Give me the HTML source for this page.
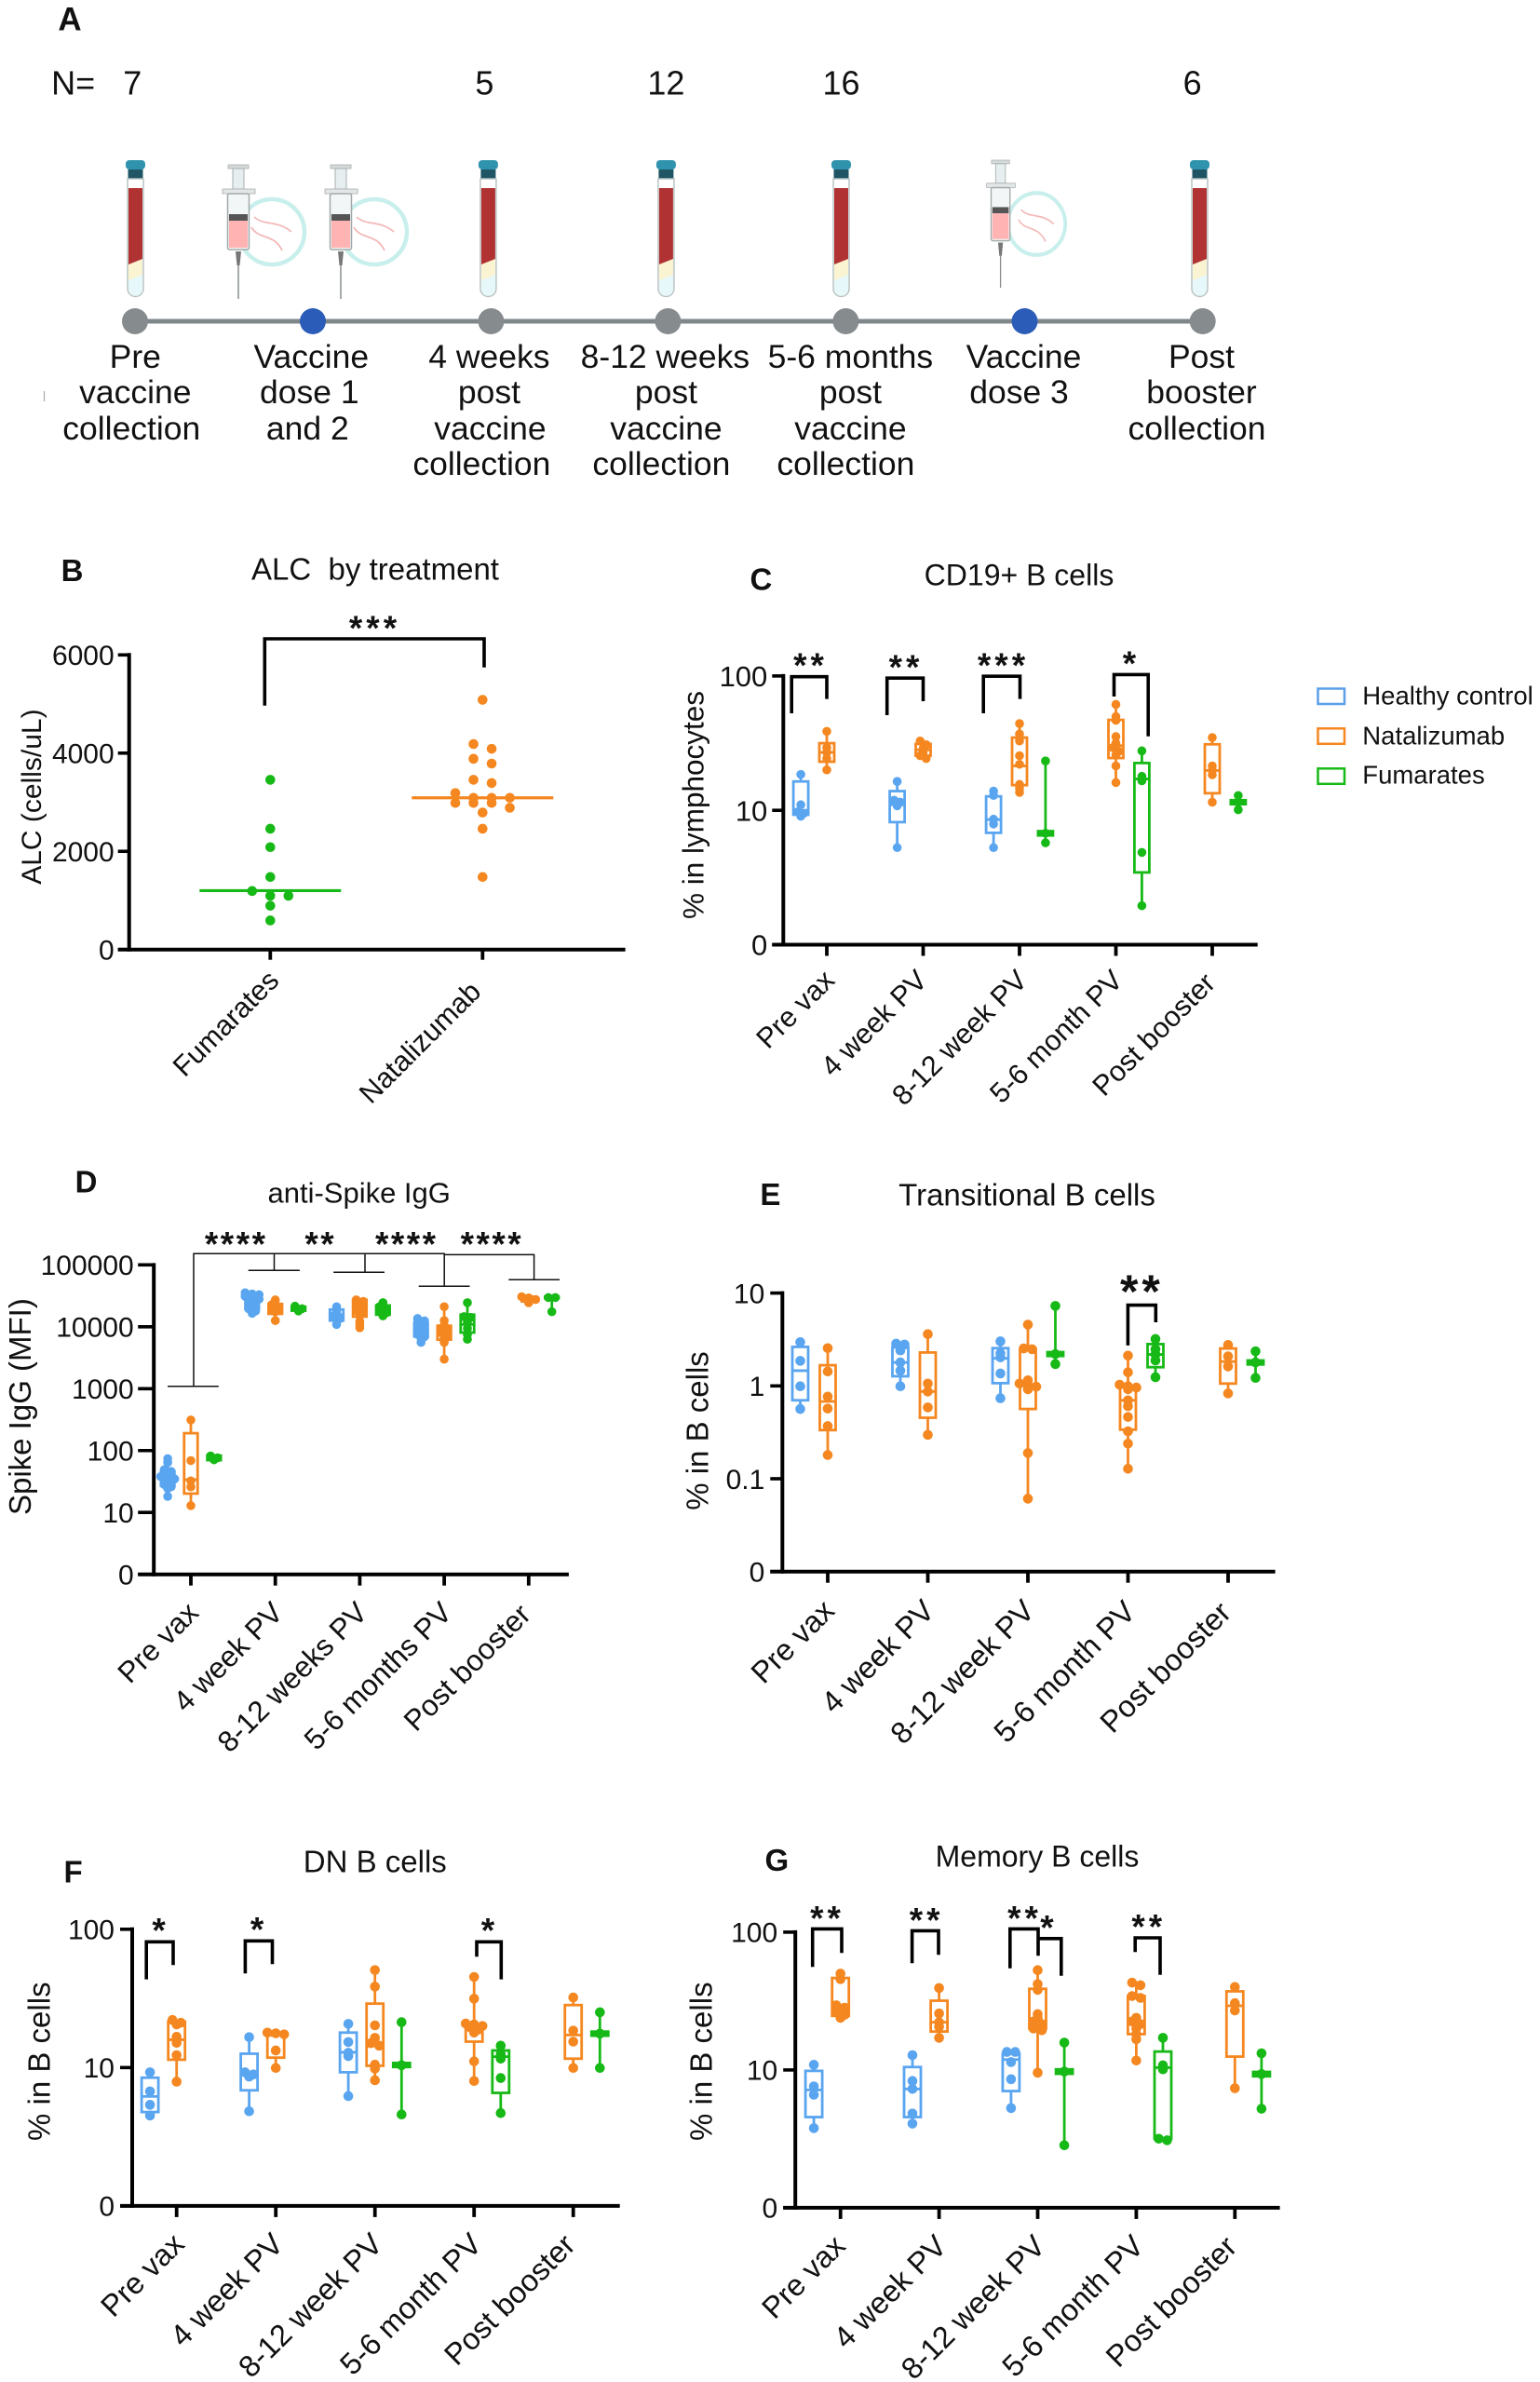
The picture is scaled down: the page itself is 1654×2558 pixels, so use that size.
<!DOCTYPE html>
<html lang="en">
<head>
<meta charset="utf-8">
<title>B cell and antibody responses to vaccination</title>
<style>
html,body{margin:0;padding:0;background:#fff;}
svg{display:block;}
text{font-family:"Liberation Sans",sans-serif;fill:#111;}
.panel{font-weight:bold;font-size:33px;text-anchor:middle;}
.title{font-size:32px;text-anchor:middle;}
.tl{font-size:35.5px;text-anchor:middle;}
.n{font-size:36px;text-anchor:middle;}
.star{text-anchor:middle;font-size:37px;font-weight:bold;letter-spacing:4px;transform:translateY(-4px);}
.br{fill:none;stroke:#000;stroke-width:3.6;}
.thin{fill:none;stroke:#111;stroke-width:1.5;}
.leg{font-size:27.5px;}
</style>
</head>
<body>
<svg id="figure" xmlns="http://www.w3.org/2000/svg" width="1654" height="2558" viewBox="0 0 1654 2558">
<rect width="1654" height="2558" fill="#fff"/>
<defs>
<g id="tube-icon">
<rect x="-10.5" y="172" width="21" height="10" rx="4" fill="#2f93ad"/>
<rect x="-8" y="182" width="16" height="10" fill="#1f5564"/>
<path d="M-8.5 192V310a8.5 8.5 0 0 0 17 0V192Z" fill="#fff" stroke="#b9c3c3" stroke-width="1.5"/>
<path d="M-7.5 296V310a7.5 7.5 0 0 0 15 0V290Z" fill="#e6f8f9"/>
<path d="M-7.5 284V301L7.5 295V278Z" fill="#fbf4d2"/>
<path d="M-7.5 202H7.5V278L-7.5 284Z" fill="#b03232"/>
</g>
<g id="spike-icon">
<circle cx="36" cy="249" r="35" fill="#fff" stroke="#c8efec" stroke-width="4.5"/>
<path d="M17 233C28 243 42 236 57 249" fill="none" stroke="#f3b9b9" stroke-width="1.8"/>
<path d="M14 244C22 258 38 250 47 269" fill="none" stroke="#f3b9b9" stroke-width="1.8"/>
</g>
<g id="syringe-icon">
<rect x="-11" y="177" width="22" height="4" fill="#d5d9d9" stroke="#a9afaf" stroke-width=".8"/>
<rect x="-6" y="181" width="12" height="22" fill="#e6eef0" stroke="#a9afaf" stroke-width="1"/>
<rect x="-17" y="203" width="35" height="5" fill="#e3e6e6" stroke="#a9afaf" stroke-width=".8"/>
<rect x="-11.5" y="208" width="23" height="60" rx="2" fill="#f2f6f6" stroke="#a3a9a9" stroke-width="1.5"/>
<rect x="-10" y="230" width="20" height="7" fill="#555"/>
<rect x="-10" y="237" width="20" height="29" fill="#ffb3b3"/>
<path d="M-3 270H3L1.5 285H-1.5Z" fill="#777"/>
<line x1="0" y1="285" x2="0" y2="321" stroke="#8b8f8f" stroke-width="1.5"/>
</g>
</defs>

<g>
<text class="panel" x="75" y="32.7" style="font-size:35px">A</text>
<text class="n" x="78.6" y="101.5">N=</text>
<text class="n" x="142.3" y="101.5">7</text>
<text class="n" x="520.4" y="101.5">5</text>
<text class="n" x="715.4" y="101.5">12</text>
<text class="n" x="903.5" y="101.5">16</text>
<text class="n" x="1280.6" y="101.5">6</text>

<use href="#tube-icon" transform="translate(145.5,0)"/>
<use href="#tube-icon" transform="translate(524.4,0)"/>
<use href="#tube-icon" transform="translate(715.4,0)"/>
<use href="#tube-icon" transform="translate(903.5,0)"/>
<use href="#tube-icon" transform="translate(1288.5,0)"/>
<use href="#spike-icon" transform="translate(256,0)"/>
<use href="#syringe-icon" transform="translate(256,0)"/>
<use href="#spike-icon" transform="translate(366,0)"/>
<use href="#syringe-icon" transform="translate(366,0)"/>
<use href="#spike-icon" transform="translate(1081.6,3.7) scale(.88,.951)"/>
<use href="#syringe-icon" transform="translate(1074.6,3.7) scale(.88,.951)"/>

<line x1="145" y1="345" x2="1291.7" y2="345" stroke="#80878b" stroke-width="5"/>
<circle cx="145" cy="345" r="14" fill="#868b8e"/>
<circle cx="336" cy="345" r="14" fill="#2a5cb8"/>
<circle cx="527.4" cy="345" r="14" fill="#868b8e"/>
<circle cx="717.4" cy="345" r="14" fill="#868b8e"/>
<circle cx="908.4" cy="345" r="14" fill="#868b8e"/>
<circle cx="1100.5" cy="345" r="14" fill="#2a5cb8"/>
<circle cx="1291.7" cy="345" r="14" fill="#868b8e"/>
<line x1="47.5" y1="420" x2="47.5" y2="431" stroke="#aaa" stroke-width="1.2"/>

<g>
<text class="tl" x="145.3" y="395">Pre</text><text class="tl" x="145.3" y="433">vaccine</text><text class="tl" x="141.3" y="472">collection</text>
</g>
<g>
<text class="tl" x="334.3" y="395">Vaccine</text><text class="tl" x="332.3" y="433">dose 1</text><text class="tl" x="330.3" y="472">and 2</text>
</g>
<g>
<text class="tl" x="525.4" y="395">4 weeks</text><text class="tl" x="525.4" y="433">post</text><text class="tl" x="526.4" y="472">vaccine</text><text class="tl" x="517.4" y="510">collection</text>
</g>
<g>
<text class="tl" x="714.4" y="395">8-12 weeks</text><text class="tl" x="715.4" y="433">post</text><text class="tl" x="715.4" y="472">vaccine</text><text class="tl" x="710.4" y="510">collection</text>
</g>
<g>
<text class="tl" x="913.4" y="395">5-6 months</text><text class="tl" x="913.4" y="433">post</text><text class="tl" x="913.4" y="472">vaccine</text><text class="tl" x="908.4" y="510">collection</text>
</g>
<g>
<text class="tl" x="1099.5" y="395">Vaccine</text><text class="tl" x="1094.5" y="433">dose 3</text>
</g>
<g>
<text class="tl" x="1290.5" y="395">Post</text><text class="tl" x="1290.5" y="433">booster</text><text class="tl" x="1285.5" y="472">collection</text>
</g>
</g>

<!-- Panel titles, letters, axis titles -->
<text class="panel" x="77.6" y="624">B</text>
<text class="title" x="403" y="622.7" style="font-size:33px">ALC&#160; by treatment</text>
<text font-size="30" text-anchor="middle" transform="translate(43.8,855.6) rotate(-90)">ALC (cells/uL)</text>

<text class="panel" x="817.4" y="633.5">C</text>
<text class="title" x="1094.5" y="628.7">CD19+ B cells</text>
<text font-size="31.5" text-anchor="middle" transform="translate(755.7,864.5) rotate(-90)">% in lymphocytes</text>

<text class="panel" x="92.5" y="1280.4">D</text>
<text class="title" x="385.7" y="1291.7" style="font-size:31px">anti-Spike IgG</text>
<text font-size="33" text-anchor="middle" transform="translate(32.8,1510.6) rotate(-90)">Spike IgG (MFI)</text>

<text class="panel" x="827.4" y="1294">E</text>
<text class="title" x="1103" y="1294.7" style="font-size:33px">Transitional B cells</text>
<text font-size="33" text-anchor="middle" transform="translate(760.7,1536.5) rotate(-90)">% in B cells</text>

<text class="panel" x="78.6" y="2021.7">F</text>
<text class="title" x="402.8" y="2010.7" style="font-size:33px">DN B cells</text>
<text font-size="33" text-anchor="middle" transform="translate(53.7,2213.7) rotate(-90)">% in B cells</text>

<text class="panel" x="834.3" y="2009">G</text>
<text class="title" x="1114" y="2004.7">Memory B cells</text>
<text font-size="33" text-anchor="middle" transform="translate(764.7,2213.7) rotate(-90)">% in B cells</text>

<!-- Legend -->
<g>
<g>
<rect x="1415.5" y="739.5" width="28.5" height="16.5" fill="none" stroke="#5b9fe8" stroke-width="2.5"/>
<text class="leg" x="1463.3" y="756.7">Healthy control</text>
</g>
<g>
<rect x="1415.5" y="782.3" width="28.5" height="16.5" fill="none" stroke="#f58720" stroke-width="2.5"/>
<text class="leg" x="1463.3" y="799.3">Natalizumab</text>
</g>
<g>
<rect x="1415.5" y="825.3" width="28.5" height="16.5" fill="none" stroke="#17b917" stroke-width="2.5"/>
<text class="leg" x="1463.3" y="841.7">Fumarates</text>
</g>
</g>

<!-- Significance brackets -->
<g>
<path class="br" d="M284.3 757.7V686H520V716.7"/>
<text class="star" x="402.5" y="691">***</text>
</g>
<g>
<path class="br" d="M850.2 766V726.7H888V750.6"/>
<text class="star" x="870.5" y="731.2">**</text>
<path class="br" d="M952.7 768V728.2H991.5V753"/>
<text class="star" x="973" y="733.2">**</text>
<path class="br" d="M1056.2 766V726.2H1095.5V750.6"/>
<text class="star" x="1077.5" y="731.2">***</text>
<path class="br" d="M1196.5 748V724.4H1233.2V790.7"/>
<text class="star" x="1215" y="729">*</text>
</g>
<g>
<path class="thin" d="M208 1488.7V1346.2H477.2V1381.2M180 1488.7H234.8M266.7 1364.3H321.9M294.5 1346.2V1364.3M358.2 1366.3H412.9M392 1346.2V1366.3M449.7 1381.2H504.5"/>
<path class="thin" d="M477.2 1347.4H573.6V1374.3M546.3 1374.3H601"/>
<text class="star" x="253.7" y="1352.4" style="letter-spacing:2.5px">****</text>
<text class="star" x="344.3" y="1352.4" style="letter-spacing:2.5px">**</text>
<text class="star" x="436.8" y="1352.4" style="letter-spacing:2.5px">****</text>
<text class="star" x="528.4" y="1352.4" style="letter-spacing:2.5px">****</text>
</g>
<g>
<path class="br" d="M1211.4 1444.9V1401.6H1241.3V1420"/>
<text class="star" x="1226.4" y="1408.1" style="font-size:50px">**</text>
</g>
<g>
<path class="br" d="M157.2 2125.6V2085.3H186V2110.2"/>
<text class="star" x="172.6" y="2089.3">*</text>
<path class="br" d="M263.4 2119.2V2084.3H292.5V2109.2"/>
<text class="star" x="278.1" y="2088.3">*</text>
<path class="br" d="M512 2101.2V2085.3H538.3V2125.6"/>
<text class="star" x="525.9" y="2089.3">*</text>
</g>
<g>
<path class="br" d="M872.7 2112.2V2071.4H904V2097.3"/>
<text class="star" x="888.5" y="2076.4">**</text>
<path class="br" d="M979.6 2108.2V2073.4H1008V2099.3"/>
<text class="star" x="995.1" y="2078.4">**</text>
<path class="br" d="M1084.8 2113.7V2071.4H1115V2100.2"/>
<text class="star" x="1100.5" y="2076.4">**</text>
<path class="br" d="M1115 2081.8H1139.8V2121.7"/>
<text class="star" x="1126.4" y="2086.3">*</text>
<path class="br" d="M1219.2 2096.3V2081H1246V2120.7"/>
<text class="star" x="1233.8" y="2085.3">**</text>
</g>
<g id="plots"></g>
</svg>

<script>
/* ---------- Panel B data ---------- */
const bCategories = ['Fumarates', 'Natalizumab'];
const bTickValues = [0, 2000, 4000, 6000];
const bTickLabels = ['0', '2000', '4000', '6000'];
const bFumarates = [3457, 2460, 2085, 1477, 1192, 1095, 1095, 892, 592];
const bNatalizumab = [5085, 4185, 4087, 3885, 3787, 3457, 3390, 3187, 3090, 3090, 3090, 2985, 2985, 2985, 2887, 2790, 2460, 1477];
const bMedians = [1200, 3090];

/* ---------- Shared categories ---------- */
const weekCategories = ['Pre vax', '4 week PV', '8-12 week PV', '5-6 month PV', 'Post booster'];
const spikeCategories = ['Pre vax', '4 week PV', '8-12 weeks PV', '5-6 months PV', 'Post booster'];

/* ---------- Panel C: CD19+ B cells ---------- */
const cTickValues = [1, 10, 100];
const cTickLabels = ['0', '10', '100'];
const cHealthyPoints = [[18.5, 11, 9.75, 9.5, 9.04], [16.4, 11.9, 11.5, 10.8, 5.28], [13.9, 12.9, 8.59, 7.91, 5.28], null, null];
const cHealthyBoxes = [[9.27, 10, 16.4], [8.17, 11, 13.9], [6.8, 8.53, 12.7], null, null];
const cNatalPoints = [[38.7, 29.3, 27, 24.3, 20], [32.8, 30.8, 29, 27.2, 25.5, 24.3], [44.2, 37, 32.8, 25.5, 22, 15.6, 14.6, 13.6], [61.4, 49.9, 46.8, 35.4, 31.6, 29.3, 27.5, 25.8, 21.4, 16.1], [34.8, 21.4, 19.8, 18.4, 11.5]];
const cNatalBoxes = [[23, 27, 31.6], [25.5, 28.2, 31.2], [15.4, 21.4, 34.8], [24.5, 30.3, 47.1], [13.4, 19.8, 31]];
const cFumaratePoints = [null, null, [23.3, 6.76, 5.73], [27.7, 17.9, 16.6, 4.86, 1.95], [12.9, 11.5, 10.1]];
const cFumarateBoxes = [null, null, [6.5, 6.76, 7], [3.45, 17.1, 22.5], [11.1, 11.5, 11.9]];

/* ---------- Panel D: anti-Spike IgG ---------- */
const dTickValues = [1, 10, 100, 1000, 10000, 100000];
const dTickLabels = ['0', '10', '100', '1000', '10000', '100000'];
const dHealthyPoints = [[74, 64, 49, 46, 42.3, 38, 36, 34.8, 33, 31.4, 28.3, 26, 24.4, 18.2], [35500, 34000, 33000, 31000, 30000, 28000, 26000, 24500, 23000, 21000, 19500, 18000, 16500], [21100, 19000, 16900, 15000, 13600, 10900], [13600, 12500, 11700, 10800, 10100, 9400, 8700, 8100, 7500, 6900, 6470, 5590], null];
const dHealthyBoxes = [[27.1, 34.8, 45.5], [19600, 24500, 33000], [12600, 15700, 19000], [6970, 8970, 11400], null];
const dNatalPoints = [[312, 68.9, 32.4, 25.9, 12.9], [27200, 22800, 21000, 19600, 18400, 17450, 12600], [27200, 25700, 24000, 22800, 21000, 19600, 18200, 16900, 15000, 12200, 10900, 9660], [21100, 12600, 10500, 9370, 8700, 8070, 7500, 6970, 5590, 3000], [30600, 29300, 27600, 24500]];
const dNatalBoxes = [[20.2, 33.9, 191], [16200, 19600, 23400], [14600, 20200, 27200], [6190, 8070, 10400], [25600, 28400, 30600]];
const dFumaratePoints = [[82, 76.4, 71], [21500, 19600, 18000], [24500, 21100, 19600, 18200, 16900, 15000], [24500, 14600, 14200, 11700, 9370, 7500, 6280], [29700, 29700, 17500]];
const dFumarateBoxes = [[70, 76.4, 83], [18200, 19600, 21100], [15700, 19000, 22100], [8070, 10900, 15700], [29000, 29700, 30600]];

/* ---------- Panel E: Transitional B cells ---------- */
const eTickValues = [0.01, 0.1, 1, 10];
const eTickLabels = ['0', '0.1', '1', '10'];
const eHealthyPoints = [[2.96, 1.86, 0.99, 0.564], [2.85, 2.79, 2.41, 1.79, 1.46, 0.99], [3.02, 2.25, 2.03, 1.36, 0.736], null, null];
const eHealthyBoxes = [[0.7, 1.46, 2.63], [1.27, 1.79, 2.6], [1.07, 1.98, 2.55], null, null];
const eNatalPoints = [[2.55, 1.43, 0.766, 0.57, 0.369, 0.18], [3.61, 1.06, 0.87, 0.587, 0.297], [4.57, 2.53, 2.48, 1.15, 1.06, 1.02, 0.98, 0.92, 0.189, 0.061], [2.12, 1.4, 1.03, 0.99, 0.96, 0.92, 0.7, 0.604, 0.463, 0.324, 0.239, 0.128], [2.76, 2.08, 1.62, 0.83]];
const eNatalBoxes = [[0.334, 0.68, 1.67], [0.454, 0.87, 2.29], [0.564, 1.04, 2.48], [0.338, 0.7, 1], [1.06, 1.83, 2.53]];
const eFumaratePoints = [null, null, [7.27, 2.2, 1.72], [3.2, 2.48, 2.18, 1.88, 1.24], [2.36, 1.79, 1.22]];
const eFumarateBoxes = [null, null, [2.1, 2.2, 2.31], [1.59, 2.18, 2.82], [1.7, 1.79, 1.88]];

/* ---------- Panel F: DN B cells ---------- */
const fTickValues = [1, 10, 100];
const fTickLabels = ['0', '10', '100'];
const fHealthyPoints = [[9.25, 6.73, 5.38, 4.5], [16.6, 9.25, 8.92, 8.6, 4.83], [20.7, 15.3, 12.8, 12.1, 6.22], null, null];
const fHealthyBoxes = [[4.77, 6.18, 8.45], [6.85, 8.97, 12.6], [9.25, 12.9, 17.9], null, null];
const fNatalPoints = [[22.1, 21.1, 20.5, 16.7, 15.1, 12.3, 7.91], [17.9, 17.7, 17.4, 13.3, 9.94], [50.7, 38.5, 20.2, 16.4, 15, 14.4, 10.5, 9.82, 8.1], [45.2, 31.5, 20.8, 20.5, 20, 19.6, 18.8, 17.9, 11.1, 8], [32.1, 18.5, 15.4, 9.94]];
const fNatalBoxes = [[11.4, 15.9, 21.5], [11.8, 17.1, 17.9], [10.3, 14.4, 29], [15.4, 19, 20.5], [11.6, 17.2, 28.3]];
const fFumaratePoints = [null, null, [21.3, 10.4, 4.58], [14.4, 12.5, 11.6, 8.4, 4.69], [25.1, 17.6, 9.94]];
const fFumarateBoxes = [null, null, [10.1, 10.4, 10.8], [6.56, 12, 13.3], [17, 17.6, 18.2]];

/* ---------- Panel G: Memory B cells ---------- */
const gTickValues = [1, 10, 100];
const gTickLabels = ['0', '10', '100'];
const gHealthyPoints = [[10.9, 7.6, 6.61, 3.78], [12.8, 8.32, 7.28, 4.83, 4.08], [13.5, 13.5, 11.4, 8.57, 5.29], null, null];
const gHealthyBoxes = [[4.55, 7.16, 9.85], [4.55, 7.28, 10.5], [7.03, 11.9, 13.1], null, null];
const gNatalPoints = [[50, 45.6, 29.5, 28.3, 26.2, 25.1, 23.9], [39.3, 25.7, 22.2, 20.6, 17.1], [53, 42, 38.1, 25.4, 23.9, 22.5, 21.5, 20, 19.4, 9.55], [43, 41.2, 34.4, 33.3, 23.9, 22.5, 21.5, 20, 18.2, 16.7, 11.7], [40, 30.5, 27, 7.37]];
const gNatalBoxes = [[24.7, 28.7, 46.5], [19, 22.2, 31.8], [20, 22.5, 38.8], [18.2, 22.5, 34.4], [12.5, 29.2, 37.2]];
const gFumaratePoints = [null, null, [15.8, 9.73, 2.84], [17.1, 10.8, 10.1, 3.17, 3.09], [13.2, 9.33, 5.23]];
const gFumarateBoxes = [null, null, [9.38, 9.73, 10.1], [3.17, 10.4, 13.6], [9, 9.33, 9.68]];

/* ---------- Colours ---------- */
const BLUE = '#5aa5f0', ORANGE = '#f58720', GREEN = '#17b917';
const SVGNS = 'http://www.w3.org/2000/svg';
const plots = document.getElementById('plots');

function svgEl(tag, attrs, parent) {
  const el = document.createElementNS(SVGNS, tag);
  for (const k in attrs) el.setAttribute(k, attrs[k]);
  parent.appendChild(el);
  return el;
}

/* Prism-style binned scatter: points close in y share a row, centred on the series position */
function swarmOffsets(values, yFn, spacing, binPx) {
  const items = values.map(v => ({ v: v, y: yFn(v) })).sort((a, b) => a.y - b.y);
  const bins = [];
  items.forEach(it => {
    const last = bins[bins.length - 1];
    if (last && it.y - last[0].y <= binPx) last.push(it);
    else bins.push([it]);
  });
  bins.forEach(bin => bin.forEach((it, i) => { it.dx = (i - (bin.length - 1) / 2) * spacing; }));
  return items;
}

function drawYAxis(group, axisX, topY, baseY, tickLen, tickVals, tickLabels, yFn, labelGap, fontSize) {
  const axis = svgEl('line', { x1: axisX, y1: topY - 2, x2: axisX, y2: baseY + 2, stroke: '#000', 'stroke-width': 4 }, group);
  
  
  tickVals.forEach((v, i) => {
    const y = yFn(v);
    const tick = svgEl('line', { x1: axisX - tickLen, y1: y, x2: axisX, y2: y, stroke: '#000', 'stroke-width': 3.6 }, group);
    
    
    const label = svgEl('text', { x: axisX - tickLen - labelGap, y: y + fontSize * 0.36, 'text-anchor': 'end', 'font-size': fontSize }, group);
    
    
    label.textContent = tickLabels[i];
  });
}

function drawXAxis(group, axisX, tickLen, baseY, xEnd, tickXs, cats, offX, offY, fontSize, xTickLen) {
  const axis = svgEl('line', { x1: axisX - tickLen, y1: baseY, x2: xEnd, y2: baseY, stroke: '#000', 'stroke-width': 4 }, group);
  
  
  tickXs.forEach((x, i) => {
    const tick = svgEl('line', { x1: x, y1: baseY, x2: x, y2: baseY + xTickLen, stroke: '#000', 'stroke-width': 3.8 }, group);
    
    
    const lx = x + offX[i], ly = baseY + offY[i];
    const label = svgEl('text', { x: lx, y: ly, 'text-anchor': 'end', 'font-size': fontSize, transform: 'rotate(-45 ' + lx + ' ' + ly + ')' }, group);
    
    
    label.textContent = cats[i];
  });
}

function drawBoxPanel(cfg) {
  const group = svgEl('g', {}, plots);
  
  
  const logMin = Math.log10(cfg.tickValues[0]);
  const yFn = v => cfg.baseY - (Math.log10(v) - logMin) * cfg.decadePx;
  const xFn = i => cfg.firstTick + i * cfg.tickStep;
  const tickXs = cfg.categories.map((c, i) => xFn(i));
  cfg.series.forEach((s, si) => {
    const seriesGroup = svgEl('g', {}, group);
    
    
    cfg.categories.forEach((c, ci) => {
      const pts = s.points[ci];
      if (!pts) return;
      const box = s.boxes[ci];
      const cx = xFn(ci) + (si - 1) * cfg.seriesGap;
      const hw = cfg.boxWidth / 2;
      const whisker = svgEl('line', { x1: cx, x2: cx, y1: yFn(Math.max.apply(null, pts)), y2: yFn(Math.min.apply(null, pts)), stroke: s.color, 'stroke-width': 2.8 }, seriesGroup);
      
      
      const top = yFn(box[2]), bottom = yFn(box[0]);
      const rect = svgEl('rect', { x: cx - hw, y: top, width: cfg.boxWidth, height: bottom - top, fill: '#fff', stroke: s.color, 'stroke-width': 2.8 }, seriesGroup);
      
      
      const median = svgEl('line', { x1: cx - hw, x2: cx + hw, y1: yFn(box[1]), y2: yFn(box[1]), stroke: s.color, 'stroke-width': 2.8 }, seriesGroup);
      
      
      swarmOffsets(pts, yFn, cfg.spacing, cfg.binPx).forEach(p => {
        const dot = svgEl('circle', { cx: cx + p.dx, cy: p.y, r: cfg.dotR, fill: s.color }, seriesGroup);
        
        
      });
    });
  });
  drawYAxis(group, cfg.axisX, yFn(cfg.tickValues[cfg.tickValues.length - 1]), cfg.baseY, cfg.tickLen, cfg.tickValues, cfg.tickLabels, yFn, cfg.labelGap, cfg.tickFont);
  drawXAxis(group, cfg.axisX, cfg.tickLen, cfg.baseY, cfg.xEnd, tickXs, cfg.categories, cfg.labelOffX, cfg.labelOffY, cfg.labelFont, 12);
}

/* ---------- Panel B ---------- */
(function drawPanelB() {
  const group = svgEl('g', {}, plots);
  
  
  const baseY = 1019.7, axisX = 138.7;
  const yFn = v => baseY - v * (316.4 / 6000);
  const tickXs = [290.3, 518.3];
  const seriesData = [bFumarates, bNatalizumab];
  const colors = [GREEN, ORANGE];
  seriesData.forEach((vals, i) => {
    swarmOffsets(vals, yFn, 19.5, 6).forEach(p => {
      const dot = svgEl('circle', { cx: tickXs[i] + p.dx, cy: p.y, r: 5.3, fill: colors[i] }, group);
      
      
    });
    const med = svgEl('line', { x1: tickXs[i] - 76, x2: tickXs[i] + 76, y1: yFn(bMedians[i]), y2: yFn(bMedians[i]), stroke: colors[i], 'stroke-width': 3.2 }, group);
    
    
  });
  drawYAxis(group, axisX, yFn(6000), baseY, 12, bTickValues, bTickLabels, yFn, 4, 30);
  drawXAxis(group, axisX, 12, baseY, 671.6, tickXs, bCategories, [11, 0], [35, 47], 30.5, 11);
})();

/* ---------- Box panels ---------- */
drawBoxPanel({
  name: 'panel-c-chart', categories: weekCategories, tickValues: cTickValues, tickLabels: cTickLabels,
  axisX: 841.3, baseY: 1014.5, xEnd: 1350.7, firstTick: 888, tickStep: 103.5, seriesGap: 27.9, decadePx: 144.3,
  boxWidth: 16, dotR: 4.8, spacing: 6.5, binPx: 4, tickLen: 12, labelGap: 5, tickFont: 31, labelFont: 30.5,
  labelOffX: [10, 6, 10, 9, 5], labelOffY: [40, 40, 40, 40, 43],
  series: [
    { label: 'healthy-control', color: BLUE, points: cHealthyPoints, boxes: cHealthyBoxes },
    { label: 'natalizumab', color: ORANGE, points: cNatalPoints, boxes: cNatalBoxes },
    { label: 'fumarates', color: GREEN, points: cFumaratePoints, boxes: cFumarateBoxes }
  ]
});
drawBoxPanel({
  name: 'panel-d-chart', categories: spikeCategories, tickValues: dTickValues, tickLabels: dTickLabels,
  axisX: 165.2, baseY: 1690.7, xEnd: 610.9, firstTick: 205, tickStep: 90.7, seriesGap: 24.9, decadePx: 66.47,
  boxWidth: 14.5, dotR: 4.8, spacing: 7.5, binPx: 3, tickLen: 17, labelGap: 4.5, tickFont: 30, labelFont: 31.5,
  labelOffX: [10, 10, 10, 10, 4], labelOffY: [43, 43, 43, 43, 45],
  series: [
    { label: 'healthy-control', color: BLUE, points: dHealthyPoints, boxes: dHealthyBoxes },
    { label: 'natalizumab', color: ORANGE, points: dNatalPoints, boxes: dNatalBoxes },
    { label: 'fumarates', color: GREEN, points: dFumaratePoints, boxes: dFumarateBoxes }
  ]
});
drawBoxPanel({
  name: 'panel-e-chart', categories: weekCategories, tickValues: eTickValues, tickLabels: eTickLabels,
  axisX: 840.3, baseY: 1687.7, xEnd: 1369.6, firstTick: 889, tickStep: 107.5, seriesGap: 29.5, decadePx: 99.7,
  boxWidth: 17, dotR: 5.3, spacing: 9, binPx: 3.5, tickLen: 13, labelGap: 6, tickFont: 30, labelFont: 32.5,
  labelOffX: [9, 9, 9, 10, 5], labelOffY: [44, 44, 44, 45, 46],
  series: [
    { label: 'healthy-control', color: BLUE, points: eHealthyPoints, boxes: eHealthyBoxes },
    { label: 'natalizumab', color: ORANGE, points: eNatalPoints, boxes: eNatalBoxes },
    { label: 'fumarates', color: GREEN, points: eFumaratePoints, boxes: eFumarateBoxes }
  ]
});
drawBoxPanel({
  name: 'panel-f-chart', categories: weekCategories, tickValues: fTickValues, tickLabels: fTickLabels,
  axisX: 142, baseY: 2368.9, xEnd: 665.7, firstTick: 189.7, tickStep: 106.5, seriesGap: 28.6, decadePx: 148.55,
  boxWidth: 18, dotR: 5.3, spacing: 9, binPx: 3.5, tickLen: 13, labelGap: 6, tickFont: 30, labelFont: 32.5,
  labelOffX: [10, 10, 10, 10, 4], labelOffY: [43, 43, 43, 43, 44],
  series: [
    { label: 'healthy-control', color: BLUE, points: fHealthyPoints, boxes: fHealthyBoxes },
    { label: 'natalizumab', color: ORANGE, points: fNatalPoints, boxes: fNatalBoxes },
    { label: 'fumarates', color: GREEN, points: fFumaratePoints, boxes: fFumarateBoxes }
  ]
});
drawBoxPanel({
  name: 'panel-g-chart', categories: weekCategories, tickValues: gTickValues, tickLabels: gTickLabels,
  axisX: 854.2, baseY: 2370.9, xEnd: 1374.6, firstTick: 902.7, tickStep: 105.9, seriesGap: 28.6, decadePx: 148,
  boxWidth: 18, dotR: 5.3, spacing: 9, binPx: 3.5, tickLen: 13, labelGap: 6, tickFont: 30, labelFont: 32.5,
  labelOffX: [7, 10, 10, 10, 4], labelOffY: [43, 43, 43, 43, 44],
  series: [
    { label: 'healthy-control', color: BLUE, points: gHealthyPoints, boxes: gHealthyBoxes },
    { label: 'natalizumab', color: ORANGE, points: gNatalPoints, boxes: gNatalBoxes },
    { label: 'fumarates', color: GREEN, points: gFumaratePoints, boxes: gFumarateBoxes }
  ]
});
</script>
</body>
</html>
